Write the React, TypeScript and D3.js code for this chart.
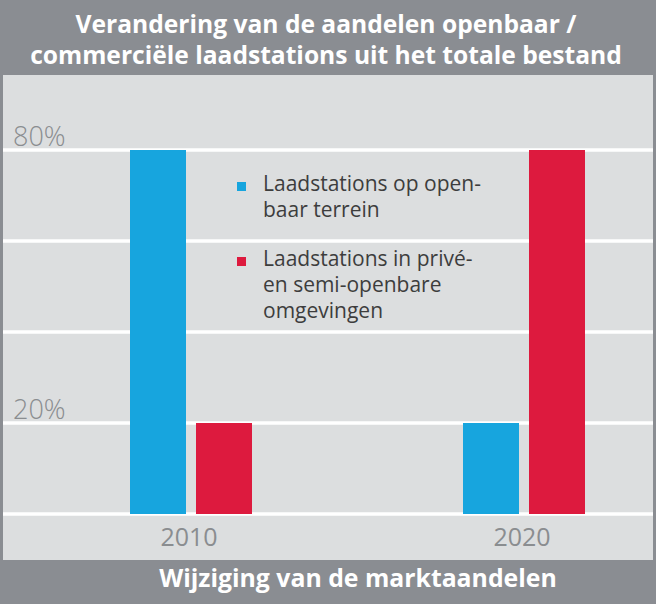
import React from "react";
import { scaleBand, scaleLinear, scalePoint } from "d3";

// chart data
const years = ["2010", "2020"];
const seriesNames = ["openbaar", "prive"];
const openbaarValues = [80, 20];
const priveValues = [20, 80];
const gridTicks = [0, 20, 40, 60, 80];
const labelTicks = [20, 80];
const titleLines = [
  "Verandering van de aandelen openbaar /",
  "commerciële laadstations uit het totale bestand",
];
const footerText = "Wijziging van de marktaandelen";
const legendItems = [
  { key: "openbaar", lines: ["Laadstations op open-", "baar terrein"] },
  { key: "prive", lines: ["Laadstations in privé-", "en semi-openbare", "omgevingen"] },
];

const colors: Record<string, string> = { openbaar: "#17a5de", prive: "#dd1a3e" };

const W = 656;
const H = 604;
const FONT = "'Open Sans', 'Noto Sans', sans-serif";

export default function App() {
  const x = scalePoint<string>().domain(years).range([191, 524]);
  const inner = scaleBand<string>().domain(seriesNames).range([-61, 61]).paddingInner(10 / 66);
  const y = scaleLinear().domain([0, 80]).range([514, 150]);

  const values: Record<string, number[]> = { openbaar: openbaarValues, prive: priveValues };

  return (
    <svg
      width={W}
      height={H}
      style={{ position: "absolute", left: 0, top: 0, display: "block" }}
      fontFamily={FONT}
    >
      {/* frame */}
      <rect x={0} y={0} width={W} height={H} fill="#8a8d92" />
      <rect x={3} y={75} width={W - 6} height={485} fill="#dcdedf" />

      {/* title */}
      {titleLines.map((t, i) => (
        <text
          key={i}
          x={326}
          y={33 + i * 31}
          textAnchor="middle"
          fontSize="24.6"
          fontWeight="700"
          fill="#ffffff"
        >
          {t}
        </text>
      ))}

      {/* grid */}
      {gridTicks.map((t) => (
        <line key={t} x1={3} x2={W - 3} y1={y(t)} y2={y(t)} stroke="#ffffff" strokeWidth={3.5} />
      ))}
      {labelTicks.map((t) => (
        <text key={t} x={13} y={y(t) - 4} fontSize="27" fill="#8a8d90" fontWeight="300">
          {t}%
        </text>
      ))}

      {/* bars */}
      {years.map((yr, i) => (
        <g key={yr} transform={`translate(${x(yr)},0)`}>
          {seriesNames.map((s) => (
            <rect
              key={s}
              x={inner(s)}
              y={y(values[s][i])}
              width={inner.bandwidth()}
              height={y(0) - y(values[s][i])}
              fill={colors[s]}
            />
          ))}
          <text y={546} x={-2} textAnchor="middle" fontSize="25" fill="#8a8d90">
            {yr}
          </text>
        </g>
      ))}

      {/* legend */}
      {legendItems.map((item, i) => (
        <g key={item.key} transform={`translate(237, ${191 + i * 75})`}>
          <rect x={0} y={-9} width={9} height={9} fill={colors[item.key]} />
          {item.lines.map((ln, j) => (
            <text key={j} x={26} y={j * 26} fontSize="21" fill="#3d3d3d">
              {ln}
            </text>
          ))}
        </g>
      ))}

      {/* footer */}
      <text x={358} y={587} textAnchor="middle" fontSize="24.8" fontWeight="700" fill="#ffffff">
        {footerText}
      </text>
    </svg>
  );
}
